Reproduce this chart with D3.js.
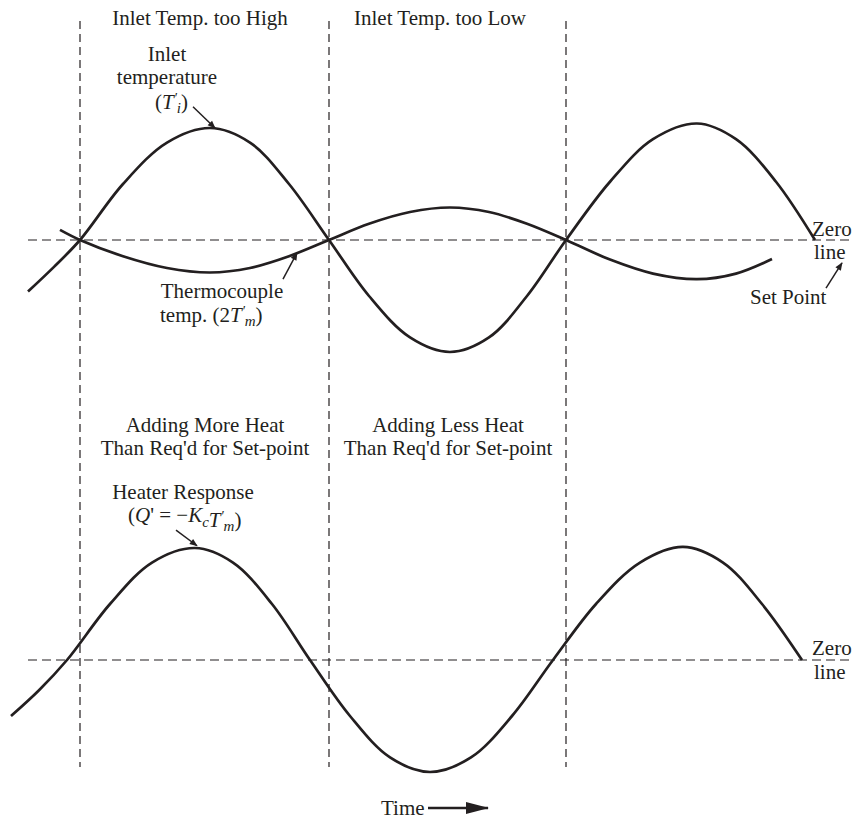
<!DOCTYPE html>
<html>
<head>
<meta charset="utf-8">
<script src="https://cdn.jsdelivr.net/npm/d3@7"></script>
<style>
  body { margin: 0; background: #fff; }
  svg text { font-family: "Liberation Serif", "Times New Roman", serif; font-size: 21px; fill: #231f20; }
</style>
</head>
<body>
<svg id="chart" width="853" height="821"></svg>
<script>
// time in arbitrary units (dashed markers at 8.0, 32.9, 56.6), amplitude in units of the inlet swing
var inletTime   = [2.8, 5.4, 8.0, 12.3, 16.7, 21.0, 25.0, 28.9, 32.9, 36.9, 41.0, 45.0, 48.9, 52.7, 56.6, 61.0, 65.3, 69.7, 73.6, 77.6, 81.5];
var inletValue  = [-0.46, -0.24, 0, 0.50, 0.87, 1.0, 0.87, 0.50, 0, -0.50, -0.87, -1.0, -0.87, -0.50, 0, 0.52, 0.90, 1.04, 0.90, 0.52, 0];

var thermoTime  = [6.0, 8.0, 12.3, 16.7, 21.0, 25.0, 28.9, 32.9, 36.9, 41.0, 45.0, 48.9, 52.7, 56.6, 61.0, 65.3, 69.7, 73.6, 77.2];
var thermoValue = [0.09, 0, -0.145, -0.25, -0.29, -0.25, -0.145, 0, 0.145, 0.25, 0.29, 0.25, 0.145, 0, -0.175, -0.30, -0.35, -0.30, -0.17];

var heaterTime  = [1.1, 3.9, 6.7, 11.0, 15.2, 19.5, 23.3, 27.2, 31.0, 35.0, 39.0, 43.0, 47.1, 51.2, 55.3, 59.6, 64.0, 68.3, 72.3, 76.2, 80.2];
var heaterValue = [-0.50, -0.27, 0, 0.50, 0.87, 1.0, 0.87, 0.50, 0, -0.50, -0.87, -1.0, -0.87, -0.50, 0, 0.50, 0.87, 1.01, 0.87, 0.50, 0];

var markerTimes = [8.0, 32.9, 56.6];

var svg = d3.select("#chart");

var x = d3.scaleLinear().domain([0, 85.3]).range([0, 853]);
var yTop = d3.scaleLinear().domain([-1, 1]).range([352, 128]);
var yBot = d3.scaleLinear().domain([-1, 1]).range([772, 548]);

function zip(ts, vs) {
	return ts.map(function (t, i) { return [t, vs[i]]; });
}

// arrow head
var defs = svg.append("defs");
defs.append("marker")
	.attr("id", "head")
	.attr("viewBox", "0 0 10 10")
	.attr("refX", 9).attr("refY", 5)
	.attr("markerWidth", 10).attr("markerHeight", 8)
	.attr("markerUnits", "userSpaceOnUse")
	.attr("orient", "auto")
	.append("path")
	.attr("d", "M0,1 L10,5 L0,9 Z")
	.attr("fill", "#231f20");

// dashed zero lines
svg.append("line")
	.attr("x1", 28).attr("x2", 853)
	.attr("y1", yTop(0)).attr("y2", yTop(0))
	.attr("stroke", "#231f20").attr("stroke-width", 1.2)
	.attr("stroke-dasharray", "9,5");
svg.append("line")
	.attr("x1", 28).attr("x2", 853)
	.attr("y1", yBot(0)).attr("y2", yBot(0))
	.attr("stroke", "#231f20").attr("stroke-width", 1.2)
	.attr("stroke-dasharray", "9,5");

// dashed vertical markers
svg.selectAll("line.marker")
	.data(markerTimes)
	.enter().append("line")
	.attr("class", "marker")
	.attr("x1", function (d) { return x(d); })
	.attr("x2", function (d) { return x(d); })
	.attr("y1", 21).attr("y2", 767)
	.attr("stroke", "#231f20").attr("stroke-width", 1.2)
	.attr("stroke-dasharray", "8,5");

// curves
var lineTop = d3.line()
	.x(function (d) { return x(d[0]); })
	.y(function (d) { return yTop(d[1]); })
	.curve(d3.curveCatmullRom.alpha(0.5));
var lineBot = d3.line()
	.x(function (d) { return x(d[0]); })
	.y(function (d) { return yBot(d[1]); })
	.curve(d3.curveCatmullRom.alpha(0.5));

svg.append("path").datum(zip(inletTime, inletValue))
	.attr("d", lineTop)
	.attr("fill", "none").attr("stroke", "#231f20").attr("stroke-width", 2.7);
svg.append("path").datum(zip(thermoTime, thermoValue))
	.attr("d", lineTop)
	.attr("fill", "none").attr("stroke", "#231f20").attr("stroke-width", 2.7);
svg.append("path").datum(zip(heaterTime, heaterValue))
	.attr("d", lineBot)
	.attr("fill", "none").attr("stroke", "#231f20").attr("stroke-width", 2.7);

// annotation arrows [t1, v1, t2, v2, panel]
var arrows = [
	[19.3, 1.19, 21.5, 1.0, "top"],
	[28.3, -0.35, 29.7, -0.115, "top"],
	[82.6, -0.43, 84.2, -0.205, "top"],
	[17.6, 1.16, 19.7, 1.02, "bot"]
];
svg.selectAll("line.arrow")
	.data(arrows)
	.enter().append("line")
	.attr("class", "arrow")
	.attr("x1", function (d) { return x(d[0]); })
	.attr("y1", function (d) { return (d[4] == "top" ? yTop : yBot)(d[1]); })
	.attr("x2", function (d) { return x(d[2]); })
	.attr("y2", function (d) { return (d[4] == "top" ? yTop : yBot)(d[3]); })
	.attr("stroke", "#231f20").attr("stroke-width", 1.5)
	.attr("marker-end", "url(#head)");

// Time arrow
svg.append("line")
	.attr("x1", 428).attr("x2", 488)
	.attr("y1", 808).attr("y2", 808)
	.attr("stroke", "#231f20").attr("stroke-width", 2.5);
svg.append("path")
	.attr("d", "M466,802 L489,808 L466,814 Z")
	.attr("fill", "#231f20");

// plain labels
function label(txt, px, py, anchor) {
	svg.append("text")
		.attr("x", px).attr("y", py)
		.attr("text-anchor", anchor || "middle")
		.text(txt);
}
label("Inlet Temp. too High", 200, 25);
label("Inlet Temp. too Low", 440, 25);
label("Inlet", 167, 61);
label("temperature", 167, 84);
label("Thermocouple", 222, 298);
label("Adding More Heat", 205, 432);
label("Than Req'd for Set-point", 205, 455);
label("Adding Less Heat", 448, 432);
label("Than Req'd for Set-point", 448, 455);
label("Heater Response", 183, 499);
label("Zero", 812, 236, "start");
label("line", 814, 259, "start");
label("Set Point", 750, 304, "start");
label("Zero", 812, 655, "start");
label("line", 814, 679, "start");
label("Time", 381, 815, "start");

// primed symbol with subscript: T′ then small italic subscript
function primed(sel, sym, sub) {
	sel.append("tspan").attr("font-style", "italic").text(sym);
	sel.append("tspan").attr("font-size", "14px").attr("dy", -6).attr("dx", 1).text("\u2032");
	sel.append("tspan").attr("font-size", "15px").attr("font-style", "italic").attr("dy", 10).attr("dx", -1).text(sub);
	sel.append("tspan").attr("dy", -4).text(")");
}

// (T'_i)
var t1 = svg.append("text").attr("x", 155).attr("y", 109);
t1.append("tspan").text("(");
primed(t1, "T", "i");

// temp. (2T'_m)
var t2 = svg.append("text").attr("x", 160).attr("y", 322);
t2.append("tspan").text("temp. (2");
primed(t2, "T", "m");

// (Q' = -K_c T'_m)
var t3 = svg.append("text").attr("x", 128).attr("y", 522);
t3.append("tspan").text("(");
t3.append("tspan").attr("font-style", "italic").text("Q");
t3.append("tspan").text("' = \u2212");
t3.append("tspan").attr("font-style", "italic").text("K");
t3.append("tspan").attr("font-size", "15px").attr("font-style", "italic").attr("dy", 5).text("c");
t3.append("tspan").attr("dy", -5).text("");
primed(t3, "T", "m");
</script>
</body>
</html>
